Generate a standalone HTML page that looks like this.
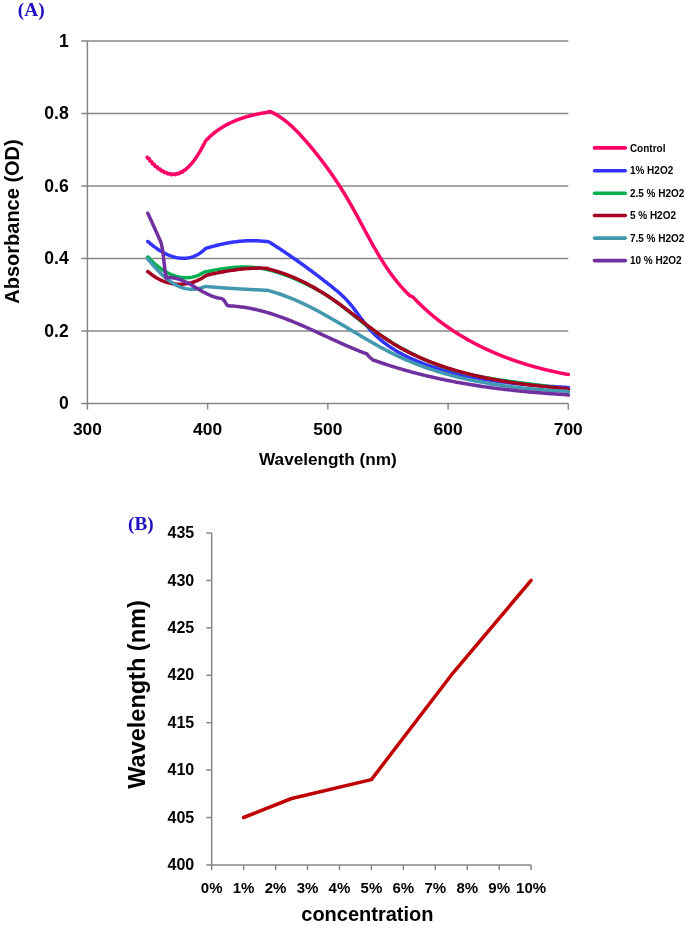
<!DOCTYPE html>
<html><head><meta charset="utf-8"><style>
html,body{margin:0;padding:0;background:#fff;}
svg{display:block;will-change:transform;}
text{font-family:"Liberation Sans",sans-serif;font-weight:bold;fill:#000;}
.serif{font-family:"Liberation Serif",serif;font-weight:bold;fill:#1F0FC0;}
</style></head><body>
<svg width="685" height="929" viewBox="0 0 685 929">
<rect width="685" height="929" fill="#fff"/>
<text class="serif" x="17.8" y="16.4" font-size="19.3">(A)</text>
<g stroke="#878787" stroke-width="1.5" fill="none"><line x1="81.2" y1="403.40" x2="568.30" y2="403.40"/><line x1="81.2" y1="330.92" x2="568.30" y2="330.92"/><line x1="81.2" y1="258.44" x2="568.30" y2="258.44"/><line x1="81.2" y1="185.96" x2="568.30" y2="185.96"/><line x1="81.2" y1="113.48" x2="568.30" y2="113.48"/><line x1="81.2" y1="41.00" x2="568.30" y2="41.00"/><line x1="87.4" y1="41.0" x2="87.4" y2="403.4"/><line x1="87.40" y1="403.4" x2="87.40" y2="409.6"/><line x1="207.62" y1="403.4" x2="207.62" y2="409.6"/><line x1="327.85" y1="403.4" x2="327.85" y2="409.6"/><line x1="448.08" y1="403.4" x2="448.08" y2="409.6"/><line x1="568.30" y1="403.4" x2="568.30" y2="409.6"/></g>
<g font-size="17.6"><text x="68.7" y="409.00" text-anchor="end">0</text><text x="68.7" y="336.52" text-anchor="end">0.2</text><text x="68.7" y="264.04" text-anchor="end">0.4</text><text x="68.7" y="191.56" text-anchor="end">0.6</text><text x="68.7" y="119.08" text-anchor="end">0.8</text><text x="68.7" y="46.60" text-anchor="end">1</text></g>
<g font-size="17.4"><text x="87.40" y="435.2" text-anchor="middle">300</text><text x="207.62" y="435.2" text-anchor="middle">400</text><text x="327.85" y="435.2" text-anchor="middle">500</text><text x="448.08" y="435.2" text-anchor="middle">600</text><text x="568.30" y="435.2" text-anchor="middle">700</text></g>
<text x="327.9" y="464.5" font-size="17.2" text-anchor="middle">Wavelength (nm)</text>
<text transform="translate(18.85,221.5) rotate(-90)" font-size="20" text-anchor="middle">Absorbance (OD)</text>
<g fill="none" stroke-width="3.5" stroke-linejoin="round" stroke-linecap="round"><path d="M147.20,157.20 L147.35,157.74 L147.62,158.13 L148.00,158.27 L148.57,158.47 L149.13,158.68 L149.48,159.02 L149.63,159.55 L149.65,160.19 L149.76,160.77 L150.11,161.15 L150.70,161.35 L151.31,161.50 L151.69,161.70 L151.92,162.04 L152.02,162.49 L152.07,162.99 L152.18,163.45 L152.41,163.79 L152.79,163.99 L153.27,164.09 L153.78,164.16 L154.19,164.32 L154.47,164.63 L154.60,165.07 L154.71,165.58 L154.85,166.04 L155.11,166.37 L155.52,166.54 L156.02,166.59 L156.53,166.63 L156.96,166.77 L157.23,167.06 L157.42,167.51 L157.56,168.01 L157.74,168.45 L158.05,168.75 L158.48,168.86 L158.99,168.86 L159.49,168.87 L159.90,168.98 L160.21,169.26 L160.42,169.68 L160.60,170.16 L160.83,170.59 L161.15,170.84 L161.58,170.91 L162.08,170.87 L162.56,170.82 L162.99,170.87 L163.32,171.10 L163.57,171.48 L163.79,171.93 L164.14,172.42 L164.62,172.63 L165.23,172.58 L165.85,172.42 L166.39,172.46 L166.80,172.79 L167.16,173.28 L167.54,173.74 L168.03,173.96 L168.57,173.86 L169.14,173.63 L169.65,173.50 L170.12,173.61 L170.55,173.97 L170.98,174.41 L171.43,174.66 L171.90,174.64 L172.41,174.40 L172.88,174.06 L173.35,173.88 L173.78,173.96 L174.26,174.22 L174.75,174.51 L175.26,174.66 L175.70,174.51 L176.10,174.16 L176.48,173.75 L176.88,173.45 L177.34,173.40 L177.84,173.56 L178.39,173.73 L178.89,173.77 L179.34,173.55 L179.66,173.11 L179.96,172.61 L180.28,172.26 L180.74,172.11 L181.30,172.17 L181.90,172.25 L182.40,172.15 L182.76,171.81 L183.01,171.28 L183.25,170.76 L183.63,170.43 L184.12,170.31 L184.67,170.20 L185.15,170.01 L185.54,169.69 L185.86,169.27 L186.20,168.88 L186.59,168.56 L187.01,168.24 L187.39,167.89 L187.78,167.55 L188.16,167.18 L188.54,166.81 L188.91,166.45 L189.19,166.16 L189.47,165.87 L189.75,165.58 L190.03,165.29 L190.30,164.99 L190.57,164.68 L190.84,164.38 L191.11,164.08 L191.38,163.77 L191.64,163.45 L191.91,163.14 L192.17,162.83 L192.43,162.50 L192.69,162.18 L192.95,161.86 L193.21,161.53 L193.46,161.20 L193.71,160.87 L193.96,160.54 L194.22,160.21 L194.46,159.87 L194.71,159.53 L194.95,159.19 L195.20,158.85 L195.44,158.51 L195.68,158.16 L195.92,157.82 L196.16,157.47 L196.39,157.13 L196.62,156.78 L196.85,156.43 L197.09,156.08 L197.31,155.73 L197.54,155.38 L197.76,155.03 L197.99,154.67 L198.21,154.32 L198.43,153.97 L198.64,153.62 L198.86,153.26 L199.07,152.91 L199.29,152.56 L199.50,152.20 L199.71,151.85 L199.91,151.50 L200.12,151.15 L200.32,150.80 L200.53,150.44 L200.72,150.10 L200.92,149.75 L201.12,149.40 L201.31,149.05 L201.57,148.59 L201.82,148.13 L202.07,147.67 L202.32,147.22 L202.56,146.77 L202.80,146.32 L203.04,145.87 L203.27,145.43 L203.50,144.99 L203.73,144.56 L203.95,144.13 L204.17,143.70 L204.38,143.28 L204.60,142.86 L204.81,142.44 L205.01,142.04 L205.21,141.64 L205.42,141.23 L205.68,140.89 L205.94,140.54 L206.20,140.20 L206.58,139.86 L206.96,139.51 L207.34,139.17 L207.71,138.79 L208.09,138.41 L208.46,138.04 L208.85,137.67 L209.23,137.30 L209.61,136.93 L210.00,136.57 L210.39,136.22 L210.78,135.86 L211.17,135.51 L211.57,135.16 L211.96,134.81 L212.36,134.47 L212.76,134.13 L213.16,133.79 L213.57,133.46 L213.98,133.13 L214.39,132.80 L214.80,132.48 L215.21,132.16 L215.62,131.84 L216.04,131.53 L216.46,131.22 L216.88,130.91 L217.31,130.60 L217.73,130.30 L218.15,130.00 L218.58,129.70 L219.01,129.41 L219.44,129.11 L219.88,128.83 L220.31,128.54 L220.75,128.26 L221.19,127.98 L221.63,127.70 L222.07,127.43 L222.51,127.16 L222.96,126.89 L223.40,126.62 L223.85,126.36 L224.30,126.10 L224.75,125.84 L225.21,125.58 L225.66,125.33 L226.12,125.08 L226.57,124.84 L227.03,124.59 L227.49,124.35 L227.95,124.11 L228.42,123.87 L228.88,123.64 L229.35,123.41 L229.81,123.18 L230.28,122.95 L230.75,122.73 L231.22,122.51 L231.69,122.29 L232.17,122.07 L232.64,121.86 L233.12,121.65 L233.60,121.44 L234.07,121.23 L234.55,121.03 L235.03,120.83 L235.52,120.63 L236.00,120.43 L236.48,120.24 L236.97,120.05 L237.45,119.85 L237.94,119.67 L238.43,119.48 L238.92,119.30 L239.41,119.12 L239.90,118.94 L240.39,118.77 L240.88,118.59 L241.38,118.42 L241.87,118.25 L242.37,118.09 L242.86,117.92 L243.36,117.76 L243.86,117.60 L244.36,117.44 L244.85,117.28 L245.36,117.13 L245.86,116.98 L246.36,116.83 L246.86,116.68 L247.36,116.54 L247.87,116.39 L248.37,116.25 L248.88,116.11 L249.38,115.97 L249.89,115.84 L250.39,115.71 L250.90,115.57 L251.41,115.44 L251.92,115.32 L252.43,115.19 L252.94,115.07 L253.45,114.95 L253.96,114.82 L254.47,114.71 L254.98,114.59 L255.49,114.47 L256.00,114.36 L256.51,114.25 L257.02,114.14 L257.54,114.04 L258.05,113.93 L258.56,113.83 L259.08,113.73 L259.59,113.63 L260.10,113.53 L260.62,113.43 L261.13,113.34 L261.65,113.24 L262.16,113.15 L262.68,113.06 L263.19,112.97 L263.71,112.88 L264.22,112.80 L264.74,112.71 L265.25,112.63 L265.77,112.55 L266.28,112.47 L266.79,112.35 L267.29,112.22 L267.80,112.10 L268.22,111.96 L268.64,111.82 L269.06,111.68 L269.48,111.54 L269.90,111.40 L270.36,111.61 L270.81,111.82 L271.27,112.03 L271.72,112.25 L272.17,112.47 L272.62,112.69 L273.06,112.92 L273.51,113.15 L273.95,113.38 L274.39,113.62 L274.82,113.85 L275.26,114.09 L275.69,114.34 L276.12,114.59 L276.55,114.83 L276.98,115.09 L277.41,115.34 L277.83,115.60 L278.25,115.86 L278.67,116.13 L279.09,116.39 L279.50,116.66 L279.91,116.93 L280.33,117.21 L280.74,117.49 L281.14,117.77 L281.55,118.04 L281.96,118.33 L282.36,118.62 L282.76,118.91 L283.16,119.20 L283.56,119.49 L283.96,119.79 L284.35,120.09 L284.74,120.39 L285.13,120.69 L285.52,121.00 L285.91,121.31 L286.30,121.61 L286.68,121.93 L287.07,122.24 L287.45,122.55 L287.83,122.87 L288.21,123.19 L288.59,123.51 L288.97,123.84 L289.34,124.16 L289.72,124.49 L290.09,124.82 L290.46,125.15 L290.83,125.48 L291.20,125.81 L291.57,126.15 L291.94,126.49 L292.30,126.83 L292.66,127.17 L293.03,127.51 L293.39,127.85 L293.75,128.20 L294.11,128.54 L294.47,128.89 L294.82,129.24 L295.18,129.59 L295.54,129.94 L295.89,130.29 L296.24,130.65 L296.60,131.01 L296.95,131.36 L297.30,131.72 L297.65,132.08 L298.00,132.44 L298.34,132.80 L298.69,133.17 L299.04,133.53 L299.38,133.89 L299.72,134.26 L300.07,134.63 L300.41,135.00 L300.75,135.37 L301.09,135.74 L301.43,136.11 L301.77,136.48 L302.11,136.85 L302.45,137.22 L302.79,137.60 L303.12,137.97 L303.46,138.35 L303.79,138.73 L304.13,139.10 L304.46,139.48 L304.80,139.86 L305.13,140.24 L305.46,140.62 L305.79,141.00 L306.13,141.38 L306.46,141.76 L306.79,142.14 L307.12,142.52 L307.45,142.90 L307.77,143.29 L308.10,143.67 L308.43,144.05 L308.76,144.44 L309.09,144.82 L309.41,145.21 L309.74,145.60 L310.06,145.98 L310.39,146.37 L310.71,146.76 L311.04,147.14 L311.36,147.53 L311.68,147.92 L312.01,148.31 L312.33,148.70 L312.65,149.09 L312.97,149.48 L313.29,149.87 L313.61,150.26 L313.93,150.65 L314.25,151.04 L314.57,151.44 L314.89,151.83 L315.20,152.22 L315.52,152.62 L315.84,153.01 L316.15,153.40 L316.47,153.80 L316.78,154.20 L317.10,154.59 L317.41,154.99 L317.73,155.38 L318.04,155.78 L318.35,156.18 L318.66,156.58 L318.98,156.98 L319.29,157.38 L319.60,157.77 L319.91,158.17 L320.22,158.57 L320.53,158.98 L320.84,159.38 L321.14,159.78 L321.45,160.18 L321.76,160.58 L322.06,160.98 L322.37,161.39 L322.68,161.79 L322.98,162.19 L323.28,162.60 L323.59,163.00 L323.89,163.41 L324.19,163.81 L324.50,164.22 L324.80,164.63 L325.10,165.03 L325.40,165.44 L325.70,165.85 L326.00,166.26 L326.30,166.66 L326.60,167.07 L326.90,167.48 L327.19,167.89 L327.49,168.30 L327.79,168.71 L328.08,169.12 L328.38,169.54 L328.67,169.95 L328.97,170.36 L329.26,170.77 L329.56,171.18 L329.85,171.60 L330.14,172.01 L330.43,172.42 L330.73,172.84 L331.02,173.25 L331.31,173.67 L331.60,174.08 L331.88,174.50 L332.17,174.92 L332.46,175.33 L332.75,175.75 L333.04,176.17 L333.32,176.58 L333.61,177.00 L333.89,177.42 L334.18,177.84 L334.46,178.26 L334.75,178.68 L335.03,179.10 L335.31,179.52 L335.60,179.94 L335.88,180.36 L336.16,180.78 L336.44,181.20 L336.72,181.62 L337.00,182.05 L337.28,182.47 L337.56,182.89 L337.83,183.32 L338.11,183.74 L338.39,184.16 L338.66,184.59 L338.94,185.01 L339.22,185.44 L339.49,185.87 L339.76,186.29 L340.04,186.72 L340.31,187.14 L340.58,187.57 L340.85,188.00 L341.12,188.43 L341.40,188.85 L341.67,189.28 L341.94,189.71 L342.20,190.14 L342.47,190.57 L342.74,191.00 L343.01,191.43 L343.28,191.86 L343.54,192.29 L343.81,192.72 L344.07,193.15 L344.34,193.59 L344.60,194.02 L344.86,194.45 L345.13,194.88 L345.39,195.32 L345.65,195.75 L345.91,196.18 L346.17,196.62 L346.43,197.05 L346.69,197.49 L346.95,197.92 L347.21,198.36 L347.47,198.79 L347.72,199.23 L347.98,199.66 L348.24,200.10 L348.49,200.54 L348.75,200.97 L349.00,201.41 L349.26,201.85 L349.51,202.29 L349.76,202.73 L350.01,203.17 L350.27,203.60 L350.52,204.04 L350.77,204.48 L351.02,204.92 L351.27,205.36 L351.52,205.80 L351.77,206.24 L352.01,206.69 L352.26,207.13 L352.51,207.57 L352.76,208.01 L353.00,208.45 L353.25,208.89 L353.49,209.34 L353.74,209.78 L353.99,210.22 L354.23,210.66 L354.47,211.11 L354.72,211.55 L354.96,211.99 L355.21,212.44 L355.45,212.88 L355.69,213.32 L355.93,213.77 L356.18,214.21 L356.42,214.65 L356.66,215.10 L356.90,215.54 L357.14,215.99 L357.38,216.43 L357.62,216.88 L357.86,217.32 L358.10,217.77 L358.34,218.21 L358.58,218.66 L358.82,219.10 L359.06,219.55 L359.30,219.99 L359.54,220.44 L359.78,220.88 L360.02,221.33 L360.26,221.77 L360.50,222.22 L360.73,222.66 L360.97,223.11 L361.21,223.55 L361.45,224.00 L361.69,224.44 L361.93,224.89 L362.16,225.34 L362.40,225.78 L362.64,226.23 L362.88,226.67 L363.12,227.12 L363.35,227.56 L363.59,228.01 L363.83,228.45 L364.07,228.90 L364.31,229.34 L364.54,229.79 L364.78,230.23 L365.02,230.68 L365.26,231.12 L365.50,231.57 L365.74,232.01 L365.98,232.46 L366.21,232.90 L366.45,233.34 L366.69,233.79 L366.93,234.23 L367.17,234.68 L367.41,235.12 L367.65,235.56 L367.89,236.01 L368.13,236.45 L368.37,236.89 L368.61,237.33 L368.85,237.78 L369.09,238.22 L369.33,238.66 L369.58,239.10 L369.82,239.55 L370.06,239.99 L370.30,240.43 L370.54,240.87 L370.79,241.31 L371.03,241.75 L371.27,242.19 L371.52,242.63 L371.76,243.07 L372.01,243.51 L372.25,243.95 L372.50,244.39 L372.74,244.83 L372.99,245.27 L373.24,245.71 L373.48,246.15 L373.73,246.58 L373.98,247.02 L374.22,247.46 L374.47,247.89 L374.72,248.33 L374.97,248.77 L375.22,249.20 L375.47,249.64 L375.72,250.07 L375.98,250.51 L376.23,250.94 L376.48,251.38 L376.73,251.81 L376.99,252.24 L377.24,252.68 L377.50,253.11 L377.75,253.54 L378.01,253.97 L378.26,254.40 L378.52,254.83 L378.78,255.27 L379.04,255.70 L379.29,256.13 L379.55,256.55 L379.81,256.98 L380.08,257.41 L380.34,257.84 L380.60,258.27 L380.86,258.69 L381.12,259.12 L381.39,259.55 L381.65,259.97 L381.92,260.40 L382.19,260.82 L382.45,261.24 L382.72,261.67 L382.99,262.09 L383.26,262.51 L383.53,262.94 L383.80,263.36 L384.07,263.78 L384.35,264.20 L384.62,264.62 L384.89,265.04 L385.17,265.46 L385.45,265.87 L385.72,266.29 L386.00,266.71 L386.28,267.12 L386.56,267.54 L386.84,267.96 L387.12,268.37 L387.40,268.78 L387.68,269.20 L387.97,269.61 L388.25,270.02 L388.54,270.43 L388.83,270.84 L389.12,271.25 L389.40,271.66 L389.69,272.07 L389.99,272.48 L390.28,272.89 L390.57,273.29 L390.86,273.70 L391.16,274.11 L391.46,274.51 L391.75,274.91 L392.05,275.32 L392.35,275.72 L392.65,276.12 L392.95,276.52 L393.26,276.92 L393.56,277.32 L393.86,277.72 L394.17,278.12 L394.48,278.52 L394.78,278.92 L395.10,279.31 L395.41,279.71 L395.72,280.10 L396.03,280.49 L396.35,280.89 L396.66,281.28 L396.98,281.67 L397.30,282.06 L397.61,282.45 L397.94,282.84 L398.26,283.23 L398.58,283.61 L398.90,284.00 L399.23,284.39 L399.56,284.77 L399.89,285.15 L400.21,285.54 L400.54,285.92 L400.88,286.30 L401.21,286.68 L401.54,287.06 L401.88,287.44 L402.22,287.81 L402.56,288.19 L402.90,288.57 L403.24,288.94 L403.58,289.32 L403.93,289.69 L404.28,290.06 L404.62,290.43 L404.97,290.80 L405.32,291.17 L405.67,291.54 L406.03,291.91 L406.38,292.27 L406.74,292.64 L407.10,293.00 L407.46,293.37 L407.82,293.73 L408.18,294.09 L408.55,294.45 L408.91,294.81 L409.28,295.17 L409.65,295.52 L410.02,295.88 L410.41,295.99 L410.81,296.09 L411.20,296.20 L411.60,296.30 L412.04,296.52 L412.49,296.75 L412.93,296.97 L413.29,297.35 L413.64,297.72 L413.99,298.10 L414.35,298.47 L414.70,298.85 L415.06,299.22 L415.41,299.59 L415.77,299.96 L416.13,300.33 L416.49,300.69 L416.85,301.06 L417.21,301.43 L417.57,301.79 L417.93,302.16 L418.29,302.52 L418.66,302.88 L419.02,303.24 L419.39,303.60 L419.75,303.96 L420.12,304.32 L420.48,304.67 L420.85,305.03 L421.22,305.38 L421.59,305.74 L421.96,306.09 L422.33,306.44 L422.70,306.79 L423.08,307.14 L423.45,307.49 L423.82,307.84 L424.20,308.19 L424.58,308.53 L424.95,308.88 L425.33,309.22 L425.71,309.56 L426.08,309.91 L426.46,310.25 L426.84,310.59 L427.22,310.93 L427.61,311.26 L427.99,311.60 L428.37,311.94 L428.75,312.27 L429.14,312.61 L429.52,312.94 L429.91,313.27 L430.29,313.60 L430.68,313.94 L431.07,314.26 L431.46,314.59 L431.85,314.92 L432.24,315.25 L432.63,315.57 L433.02,315.90 L433.41,316.22 L433.80,316.54 L434.19,316.87 L434.59,317.19 L434.98,317.50 L435.38,317.82 L435.77,318.14 L436.17,318.46 L436.57,318.78 L436.97,319.09 L437.36,319.40 L437.76,319.72 L438.16,320.03 L438.56,320.34 L438.96,320.65 L439.37,320.96 L439.77,321.27 L440.17,321.58 L440.58,321.88 L440.98,322.19 L441.39,322.49 L441.79,322.80 L442.20,323.10 L442.60,323.40 L443.01,323.70 L443.42,324.00 L443.83,324.30 L444.24,324.60 L444.65,324.90 L445.06,325.20 L445.47,325.49 L445.88,325.78 L446.30,326.08 L446.71,326.37 L447.12,326.66 L447.54,326.95 L447.95,327.24 L448.37,327.53 L448.78,327.82 L449.20,328.11 L449.62,328.39 L450.04,328.68 L450.45,328.96 L450.87,329.25 L451.29,329.53 L451.71,329.81 L452.13,330.09 L452.56,330.37 L452.98,330.65 L453.40,330.93 L453.82,331.21 L454.25,331.48 L454.67,331.76 L455.10,332.03 L455.52,332.31 L455.95,332.58 L456.38,332.85 L456.80,333.12 L457.23,333.39 L457.66,333.66 L458.09,333.93 L458.52,334.20 L458.95,334.46 L459.38,334.73 L459.81,334.99 L460.24,335.26 L460.67,335.52 L461.10,335.78 L461.54,336.04 L461.97,336.30 L462.41,336.56 L462.84,336.82 L463.28,337.08 L463.71,337.34 L464.15,337.59 L464.59,337.85 L465.02,338.10 L465.46,338.36 L465.90,338.61 L466.34,338.86 L466.78,339.11 L467.22,339.36 L467.66,339.61 L468.10,339.86 L468.54,340.10 L468.98,340.35 L469.42,340.60 L469.87,340.84 L470.31,341.08 L470.75,341.33 L471.20,341.57 L471.64,341.81 L472.09,342.05 L472.54,342.29 L472.98,342.53 L473.43,342.77 L473.88,343.00 L474.32,343.24 L474.77,343.48 L475.22,343.71 L475.67,343.94 L476.12,344.18 L476.57,344.41 L477.02,344.64 L477.47,344.87 L477.92,345.10 L478.37,345.33 L478.83,345.56 L479.28,345.78 L479.73,346.01 L480.19,346.23 L480.64,346.46 L481.10,346.68 L481.55,346.90 L482.01,347.13 L482.46,347.35 L482.92,347.57 L483.37,347.79 L483.83,348.00 L484.29,348.22 L484.75,348.44 L485.21,348.66 L485.66,348.87 L486.12,349.09 L486.58,349.30 L487.04,349.51 L487.50,349.72 L487.96,349.93 L488.43,350.15 L488.89,350.35 L489.35,350.56 L489.81,350.77 L490.27,350.98 L490.74,351.18 L491.20,351.39 L491.67,351.60 L492.13,351.80 L492.59,352.00 L493.06,352.20 L493.53,352.41 L493.99,352.61 L494.46,352.81 L494.92,353.01 L495.39,353.20 L495.86,353.40 L496.33,353.60 L496.79,353.79 L497.26,353.99 L497.73,354.18 L498.20,354.38 L498.67,354.57 L499.14,354.76 L499.61,354.95 L500.08,355.14 L500.55,355.33 L501.02,355.52 L501.50,355.71 L501.97,355.90 L502.44,356.08 L502.91,356.27 L503.39,356.45 L503.86,356.64 L504.33,356.82 L504.81,357.00 L505.28,357.19 L505.76,357.37 L506.23,357.55 L506.71,357.73 L507.18,357.90 L507.66,358.08 L508.13,358.26 L508.61,358.44 L509.09,358.61 L509.56,358.79 L510.04,358.96 L510.52,359.13 L511.00,359.31 L511.48,359.48 L511.95,359.65 L512.43,359.82 L512.91,359.99 L513.39,360.16 L513.87,360.33 L514.35,360.49 L514.83,360.66 L515.31,360.83 L515.79,360.99 L516.28,361.15 L516.76,361.32 L517.24,361.48 L517.72,361.64 L518.20,361.80 L518.68,361.96 L519.17,362.12 L519.65,362.28 L520.13,362.44 L520.62,362.60 L521.10,362.76 L521.59,362.91 L522.07,363.07 L522.55,363.22 L523.04,363.38 L523.52,363.53 L524.01,363.68 L524.49,363.83 L524.98,363.98 L525.47,364.14 L525.95,364.28 L526.44,364.43 L526.92,364.58 L527.41,364.73 L527.90,364.87 L528.39,365.02 L528.87,365.17 L529.36,365.31 L529.85,365.45 L530.34,365.60 L530.83,365.74 L531.31,365.88 L531.80,366.02 L532.29,366.16 L532.78,366.30 L533.27,366.44 L533.76,366.58 L534.25,366.72 L534.74,366.85 L535.23,366.99 L535.72,367.12 L536.21,367.26 L536.70,367.39 L537.19,367.53 L537.68,367.66 L538.17,367.79 L538.67,367.92 L539.16,368.05 L539.65,368.18 L540.14,368.31 L540.63,368.44 L541.12,368.56 L541.62,368.69 L542.11,368.82 L542.60,368.94 L543.09,369.07 L543.59,369.19 L544.08,369.32 L544.57,369.44 L545.07,369.56 L545.56,369.68 L546.05,369.80 L546.55,369.92 L547.04,370.04 L547.54,370.16 L548.03,370.28 L548.52,370.39 L549.02,370.51 L549.51,370.63 L550.01,370.74 L550.50,370.86 L551.00,370.97 L551.49,371.08 L551.99,371.20 L552.48,371.31 L552.98,371.42 L553.47,371.53 L553.97,371.64 L554.47,371.75 L554.96,371.86 L555.46,371.97 L555.95,372.07 L556.45,372.18 L556.95,372.29 L557.44,372.39 L557.94,372.50 L558.43,372.60 L558.93,372.70 L559.43,372.81 L559.92,372.91 L560.42,373.01 L560.92,373.11 L561.41,373.21 L561.91,373.31 L562.41,373.41 L562.91,373.51 L563.40,373.60 L563.90,373.70 L564.40,373.80 L564.89,373.89 L565.39,373.99 L565.89,374.08 L566.39,374.18 L566.88,374.27 L567.39,374.31 L567.89,374.36 L568.40,374.40" stroke="#FF0066"/><path d="M147.70,241.50 L148.93,242.30 L150.08,243.32 L151.26,244.32 L152.47,245.31 L153.70,246.28 L154.95,247.22 L156.22,248.15 L157.51,249.05 L158.83,249.92 L160.16,250.76 L161.51,251.57 L162.87,252.34 L164.25,253.08 L165.64,253.78 L167.05,254.43 L168.46,255.04 L169.89,255.61 L171.32,256.13 L172.76,256.59 L174.21,257.01 L175.67,257.36 L177.13,257.66 L178.59,257.90 L180.05,258.08 L181.51,258.20 L182.98,258.24 L184.44,258.23 L185.89,258.14 L187.35,257.98 L188.80,257.76 L190.24,257.45 L191.67,257.08 L193.09,256.62 L194.50,256.08 L195.90,255.47 L197.29,254.77 L198.66,253.99 L200.02,253.12 L201.36,252.16 L202.68,251.11 L203.99,249.97 L205.27,248.74 L206.50,248.10 L207.98,247.70 L209.46,247.28 L210.95,246.87 L212.43,246.47 L213.93,246.07 L215.42,245.69 L216.92,245.32 L218.41,244.96 L219.92,244.61 L221.42,244.27 L222.93,243.95 L224.44,243.64 L225.95,243.34 L227.46,243.06 L228.98,242.79 L230.49,242.53 L232.01,242.29 L233.53,242.07 L235.06,241.86 L236.58,241.66 L238.11,241.48 L239.64,241.32 L241.17,241.18 L242.70,241.05 L244.23,240.95 L245.76,240.86 L247.30,240.79 L248.83,240.73 L250.37,240.70 L251.91,240.69 L253.45,240.70 L254.98,240.73 L256.52,240.77 L258.06,240.85 L259.60,240.94 L261.14,241.05 L262.69,241.19 L264.23,241.35 L265.77,241.54 L267.30,241.60 L268.94,241.86 L270.20,242.66 L271.46,243.46 L272.72,244.26 L273.98,245.07 L275.23,245.88 L276.48,246.69 L277.74,247.51 L278.99,248.33 L280.24,249.16 L281.49,249.98 L282.74,250.81 L283.99,251.65 L285.23,252.49 L286.48,253.33 L287.72,254.17 L288.97,255.02 L290.21,255.87 L291.45,256.72 L292.68,257.58 L293.92,258.44 L295.16,259.30 L296.39,260.17 L297.62,261.03 L298.86,261.91 L300.09,262.78 L301.31,263.66 L302.54,264.54 L303.77,265.42 L304.99,266.31 L306.21,267.19 L307.43,268.08 L308.65,268.98 L309.87,269.87 L311.08,270.77 L312.30,271.67 L313.51,272.58 L314.72,273.49 L315.93,274.39 L317.13,275.31 L318.34,276.22 L319.54,277.14 L320.74,278.06 L321.94,278.98 L323.13,279.90 L324.33,280.83 L325.52,281.75 L326.71,282.68 L327.90,283.62 L329.09,284.55 L330.27,285.49 L331.45,286.43 L332.63,287.37 L333.80,288.32 L334.97,289.27 L336.13,290.23 L337.28,291.20 L338.43,292.18 L339.56,293.17 L340.68,294.17 L341.79,295.19 L342.89,296.22 L343.97,297.26 L345.03,298.32 L346.08,299.40 L347.11,300.50 L348.12,301.62 L349.12,302.75 L350.09,303.91 L351.06,305.07 L352.01,306.25 L352.95,307.45 L353.88,308.65 L354.80,309.86 L355.71,311.08 L356.62,312.30 L357.53,313.53 L358.43,314.76 L359.33,315.99 L360.23,317.22 L361.13,318.44 L362.03,319.66 L362.94,320.88 L363.86,322.09 L364.78,323.29 L365.71,324.48 L366.65,325.66 L367.60,326.83 L368.57,327.98 L369.55,329.11 L370.54,330.23 L371.56,331.33 L372.58,332.41 L373.62,333.47 L374.68,334.52 L375.75,335.55 L376.83,336.56 L377.93,337.56 L379.04,338.54 L380.16,339.50 L381.30,340.45 L382.45,341.38 L383.61,342.30 L384.79,343.20 L385.97,344.08 L387.17,344.96 L388.38,345.81 L389.60,346.65 L390.83,347.48 L392.07,348.29 L393.33,349.09 L394.59,349.88 L395.86,350.65 L397.14,351.41 L398.43,352.15 L399.73,352.89 L401.04,353.60 L402.36,354.31 L403.68,355.01 L405.02,355.69 L406.36,356.36 L407.71,357.02 L409.06,357.66 L410.42,358.30 L411.79,358.92 L413.17,359.53 L414.55,360.13 L415.94,360.73 L417.33,361.31 L418.73,361.88 L420.13,362.44 L421.54,362.99 L422.95,363.53 L424.36,364.06 L425.78,364.58 L427.21,365.09 L428.64,365.60 L430.07,366.09 L431.50,366.58 L432.94,367.06 L434.37,367.53 L435.81,367.99 L437.26,368.44 L438.70,368.89 L440.15,369.33 L441.60,369.76 L443.05,370.18 L444.50,370.60 L445.95,371.01 L447.41,371.41 L448.87,371.80 L450.33,372.19 L451.79,372.57 L453.25,372.94 L454.72,373.31 L456.19,373.67 L457.65,374.02 L459.12,374.37 L460.60,374.70 L462.07,375.04 L463.54,375.36 L465.02,375.68 L466.50,376.00 L467.98,376.31 L469.46,376.61 L470.94,376.91 L472.42,377.20 L473.90,377.48 L475.39,377.76 L476.88,378.03 L478.36,378.30 L479.85,378.56 L481.34,378.82 L482.83,379.07 L484.32,379.32 L485.82,379.56 L487.31,379.80 L488.80,380.03 L490.30,380.26 L491.80,380.48 L493.29,380.70 L494.79,380.91 L496.29,381.12 L497.79,381.32 L499.29,381.52 L500.79,381.72 L502.29,381.91 L503.79,382.10 L505.29,382.28 L506.79,382.46 L508.30,382.64 L509.80,382.81 L511.30,382.98 L512.81,383.14 L514.31,383.31 L515.81,383.46 L517.32,383.62 L518.82,383.77 L520.33,383.92 L521.83,384.07 L523.34,384.21 L524.84,384.35 L526.35,384.49 L527.85,384.62 L529.36,384.75 L530.86,384.88 L532.37,385.01 L533.87,385.13 L535.38,385.26 L536.88,385.38 L538.38,385.49 L539.89,385.61 L541.39,385.73 L542.89,385.84 L544.40,385.95 L545.90,386.06 L547.40,386.17 L548.90,386.27 L550.40,386.38 L551.90,386.48 L553.40,386.58 L554.90,386.68 L556.40,386.78 L557.89,386.88 L559.39,386.98 L560.89,387.08 L562.38,387.17 L563.87,387.27 L565.37,387.37 L566.86,387.46 L568.40,387.60" stroke="#3333FF"/><path d="M147.70,257.00 L148.94,257.91 L149.97,259.06 L151.02,260.19 L152.11,261.31 L153.23,262.40 L154.38,263.48 L155.56,264.53 L156.76,265.55 L157.99,266.55 L159.25,267.52 L160.52,268.46 L161.82,269.36 L163.14,270.23 L164.48,271.07 L165.84,271.86 L167.22,272.61 L168.62,273.32 L170.03,273.98 L171.45,274.60 L172.89,275.17 L174.34,275.68 L175.80,276.15 L177.27,276.55 L178.75,276.90 L180.23,277.19 L181.72,277.42 L183.22,277.58 L184.72,277.68 L186.23,277.72 L187.74,277.68 L189.24,277.57 L190.75,277.39 L192.26,277.13 L193.76,276.79 L195.26,276.38 L196.75,275.88 L198.24,275.30 L199.72,274.64 L201.20,273.88 L202.66,273.04 L204.11,272.11 L205.50,271.60 L206.94,271.67 L208.43,271.35 L209.93,271.04 L211.43,270.74 L212.93,270.44 L214.43,270.15 L215.94,269.88 L217.44,269.61 L218.95,269.35 L220.46,269.10 L221.97,268.87 L223.48,268.64 L224.99,268.43 L226.51,268.23 L228.02,268.05 L229.53,267.88 L231.05,267.72 L232.56,267.58 L234.07,267.45 L235.58,267.34 L237.09,267.25 L238.60,267.17 L240.11,267.11 L241.62,267.07 L243.12,267.04 L244.63,267.04 L246.13,267.05 L247.63,267.09 L249.12,267.14 L250.62,267.22 L252.11,267.32 L253.59,267.44 L255.08,267.58 L256.56,267.74 L258.04,267.93 L259.51,268.14 L260.98,268.37 L262.45,268.62 L263.91,268.89 L265.37,269.18 L266.83,269.49 L268.28,269.82 L269.74,270.17 L271.18,270.53 L272.63,270.91 L274.07,271.31 L275.50,271.73 L276.94,272.16 L278.37,272.61 L279.80,273.07 L281.22,273.54 L282.64,274.03 L284.06,274.54 L285.48,275.05 L286.89,275.58 L288.30,276.12 L289.71,276.68 L291.11,277.24 L292.51,277.81 L293.91,278.40 L295.30,278.99 L296.69,279.59 L298.08,280.20 L299.47,280.82 L300.85,281.45 L302.23,282.09 L303.60,282.74 L304.97,283.39 L306.34,284.05 L307.70,284.73 L309.06,285.41 L310.41,286.10 L311.76,286.80 L313.10,287.51 L314.44,288.22 L315.77,288.95 L317.10,289.69 L318.42,290.43 L319.74,291.18 L321.05,291.95 L322.35,292.72 L323.65,293.50 L324.94,294.29 L326.23,295.10 L327.50,295.91 L328.77,296.73 L330.04,297.56 L331.29,298.40 L332.54,299.24 L333.78,300.10 L335.01,300.97 L336.23,301.85 L337.45,302.74 L338.66,303.63 L339.86,304.53 L341.06,305.44 L342.26,306.35 L343.44,307.27 L344.63,308.20 L345.81,309.12 L346.99,310.06 L348.17,310.99 L349.34,311.93 L350.52,312.86 L351.69,313.80 L352.87,314.74 L354.04,315.68 L355.22,316.61 L356.40,317.55 L357.58,318.48 L358.76,319.41 L359.94,320.34 L361.13,321.26 L362.33,322.17 L363.52,323.08 L364.73,323.99 L365.93,324.89 L367.14,325.79 L368.35,326.68 L369.57,327.57 L370.79,328.45 L372.01,329.33 L373.24,330.20 L374.47,331.07 L375.70,331.93 L376.94,332.79 L378.19,333.64 L379.43,334.49 L380.68,335.33 L381.94,336.16 L383.19,336.99 L384.46,337.81 L385.72,338.63 L386.99,339.44 L388.26,340.24 L389.54,341.04 L390.82,341.83 L392.10,342.62 L393.39,343.40 L394.68,344.17 L395.98,344.94 L397.28,345.70 L398.58,346.45 L399.88,347.20 L401.19,347.94 L402.51,348.67 L403.82,349.39 L405.14,350.11 L406.47,350.82 L407.80,351.53 L409.13,352.22 L410.46,352.91 L411.80,353.60 L413.15,354.27 L414.49,354.94 L415.84,355.60 L417.20,356.25 L418.55,356.89 L419.91,357.53 L421.28,358.16 L422.65,358.78 L424.02,359.39 L425.39,359.99 L426.77,360.59 L428.16,361.18 L429.54,361.76 L430.93,362.33 L432.32,362.89 L433.72,363.44 L435.12,363.99 L436.53,364.52 L437.93,365.05 L439.34,365.57 L440.76,366.08 L442.18,366.58 L443.60,367.07 L445.03,367.55 L446.45,368.02 L447.89,368.48 L449.32,368.94 L450.76,369.38 L452.21,369.82 L453.65,370.24 L455.10,370.66 L456.55,371.07 L458.01,371.47 L459.47,371.86 L460.93,372.24 L462.39,372.62 L463.86,372.98 L465.33,373.34 L466.80,373.70 L468.28,374.04 L469.75,374.38 L471.23,374.71 L472.72,375.03 L474.20,375.35 L475.68,375.66 L477.17,375.97 L478.66,376.27 L480.15,376.56 L481.65,376.85 L483.14,377.13 L484.64,377.40 L486.13,377.67 L487.63,377.94 L489.13,378.20 L490.63,378.46 L492.14,378.71 L493.64,378.96 L495.14,379.20 L496.65,379.44 L498.15,379.67 L499.66,379.90 L501.17,380.13 L502.67,380.36 L504.18,380.58 L505.69,380.80 L507.20,381.01 L508.71,381.23 L510.22,381.44 L511.72,381.64 L513.23,381.85 L514.74,382.05 L516.25,382.26 L517.76,382.46 L519.26,382.66 L520.77,382.85 L522.27,383.05 L523.78,383.25 L525.28,383.44 L526.79,383.64 L528.29,383.83 L529.79,384.03 L531.29,384.22 L532.79,384.42 L534.29,384.61 L535.78,384.80 L537.28,385.00 L538.77,385.20 L540.26,385.39 L541.75,385.59 L543.24,385.79 L544.72,385.99 L546.21,386.20 L547.69,386.40 L549.17,386.61 L550.65,386.82 L552.12,387.03 L553.59,387.24 L555.06,387.46 L556.53,387.68 L557.99,387.90 L559.46,388.13 L560.91,388.36 L562.37,388.59 L563.82,388.83 L565.27,389.07 L566.72,389.31 L568.40,389.35" stroke="#00B050"/><path d="M147.70,271.60 L148.97,272.40 L150.21,273.46 L151.47,274.47 L152.77,275.43 L154.08,276.34 L155.43,277.21 L156.79,278.02 L158.18,278.79 L159.58,279.51 L161.01,280.18 L162.45,280.79 L163.91,281.36 L165.38,281.88 L166.86,282.34 L168.36,282.76 L169.87,283.12 L171.38,283.43 L172.91,283.69 L174.44,283.90 L175.97,284.05 L177.51,284.16 L179.06,284.21 L180.60,284.21 L182.14,284.15 L183.68,284.04 L185.22,283.88 L186.75,283.66 L188.27,283.39 L189.79,283.06 L191.30,282.68 L192.80,282.25 L194.29,281.76 L195.77,281.21 L197.23,280.61 L198.67,279.95 L200.10,279.24 L201.51,278.47 L202.90,277.64 L204.27,276.75 L205.62,275.81 L207.00,275.20 L208.51,274.81 L210.04,274.47 L211.56,274.13 L213.08,273.80 L214.61,273.48 L216.14,273.16 L217.67,272.84 L219.21,272.54 L220.74,272.24 L222.28,271.95 L223.81,271.66 L225.35,271.39 L226.89,271.12 L228.44,270.87 L229.98,270.62 L231.52,270.38 L233.07,270.15 L234.62,269.93 L236.16,269.72 L237.71,269.53 L239.26,269.34 L240.82,269.17 L242.37,269.00 L243.92,268.85 L245.47,268.72 L247.03,268.59 L248.59,268.48 L250.14,268.38 L251.70,268.30 L253.26,268.23 L254.82,268.17 L256.37,268.13 L257.93,268.11 L259.49,268.10 L261.05,268.10 L262.62,268.13 L264.18,268.17 L265.74,268.22 L267.30,268.20 L268.41,268.99 L269.91,269.37 L271.41,269.77 L272.90,270.17 L274.39,270.60 L275.86,271.03 L277.33,271.48 L278.79,271.94 L280.25,272.41 L281.70,272.89 L283.14,273.39 L284.58,273.90 L286.01,274.42 L287.43,274.96 L288.85,275.50 L290.26,276.06 L291.66,276.62 L293.06,277.20 L294.45,277.79 L295.84,278.39 L297.21,279.01 L298.59,279.63 L299.96,280.26 L301.32,280.91 L302.67,281.56 L304.03,282.22 L305.37,282.90 L306.71,283.58 L308.04,284.27 L309.37,284.98 L310.70,285.69 L312.02,286.41 L313.33,287.14 L314.64,287.88 L315.94,288.63 L317.24,289.39 L318.53,290.16 L319.82,290.93 L321.10,291.71 L322.38,292.51 L323.66,293.30 L324.93,294.11 L326.19,294.93 L327.45,295.75 L328.71,296.58 L329.96,297.42 L331.21,298.26 L332.46,299.11 L333.70,299.97 L334.93,300.84 L336.17,301.71 L337.39,302.59 L338.62,303.47 L339.84,304.36 L341.06,305.25 L342.28,306.15 L343.49,307.06 L344.70,307.96 L345.91,308.87 L347.12,309.79 L348.33,310.70 L349.53,311.62 L350.73,312.55 L351.93,313.47 L353.13,314.40 L354.33,315.33 L355.53,316.25 L356.73,317.18 L357.92,318.11 L359.12,319.04 L360.32,319.97 L361.52,320.90 L362.72,321.82 L363.91,322.75 L365.11,323.67 L366.31,324.60 L367.52,325.52 L368.72,326.43 L369.92,327.35 L371.13,328.26 L372.34,329.16 L373.55,330.06 L374.76,330.96 L375.98,331.85 L377.20,332.74 L378.42,333.62 L379.65,334.50 L380.87,335.37 L382.11,336.23 L383.34,337.09 L384.58,337.94 L385.82,338.78 L387.07,339.62 L388.32,340.44 L389.58,341.26 L390.84,342.07 L392.11,342.87 L393.38,343.66 L394.66,344.44 L395.94,345.21 L397.23,345.97 L398.52,346.72 L399.82,347.46 L401.12,348.20 L402.43,348.92 L403.74,349.64 L405.06,350.34 L406.38,351.04 L407.71,351.73 L409.04,352.41 L410.38,353.08 L411.72,353.74 L413.06,354.39 L414.41,355.04 L415.76,355.67 L417.12,356.30 L418.48,356.92 L419.85,357.53 L421.22,358.14 L422.59,358.73 L423.97,359.32 L425.35,359.90 L426.74,360.47 L428.13,361.03 L429.52,361.59 L430.91,362.14 L432.31,362.68 L433.72,363.21 L435.13,363.74 L436.54,364.25 L437.95,364.76 L439.37,365.27 L440.79,365.76 L442.21,366.25 L443.64,366.73 L445.06,367.21 L446.50,367.68 L447.93,368.14 L449.37,368.59 L450.81,369.04 L452.25,369.48 L453.70,369.91 L455.15,370.34 L456.60,370.76 L458.06,371.18 L459.51,371.59 L460.97,371.99 L462.43,372.38 L463.89,372.77 L465.36,373.16 L466.83,373.53 L468.30,373.91 L469.77,374.27 L471.24,374.63 L472.72,374.99 L474.20,375.34 L475.67,375.68 L477.16,376.02 L478.64,376.35 L480.12,376.67 L481.61,377.00 L483.10,377.31 L484.58,377.62 L486.07,377.93 L487.56,378.23 L489.06,378.53 L490.55,378.82 L492.05,379.10 L493.54,379.39 L495.04,379.66 L496.54,379.93 L498.03,380.20 L499.53,380.47 L501.03,380.72 L502.53,380.98 L504.04,381.23 L505.54,381.47 L507.04,381.72 L508.54,381.95 L510.05,382.19 L511.55,382.42 L513.06,382.64 L514.56,382.87 L516.06,383.08 L517.57,383.30 L519.07,383.51 L520.58,383.72 L522.08,383.92 L523.59,384.12 L525.09,384.32 L526.60,384.51 L528.10,384.70 L529.60,384.89 L531.10,385.08 L532.61,385.26 L534.11,385.44 L535.61,385.61 L537.11,385.79 L538.61,385.96 L540.11,386.13 L541.61,386.29 L543.10,386.45 L544.60,386.61 L546.10,386.77 L547.59,386.93 L549.08,387.08 L550.57,387.23 L552.07,387.38 L553.55,387.53 L555.04,387.67 L556.53,387.82 L558.01,387.96 L559.50,388.10 L560.98,388.24 L562.46,388.37 L563.94,388.51 L565.41,388.64 L566.89,388.78 L568.40,389.50" stroke="#A50021"/><path d="M147.40,258.80 L148.57,259.87 L149.50,261.00 L150.46,262.13 L151.43,263.28 L152.42,264.43 L153.42,265.59 L154.45,266.75 L155.49,267.91 L156.56,269.06 L157.64,270.21 L158.73,271.35 L159.85,272.48 L160.98,273.59 L162.13,274.69 L163.30,275.76 L164.49,276.82 L165.69,277.85 L166.91,278.86 L168.14,279.83 L169.40,280.77 L170.66,281.68 L171.95,282.55 L173.25,283.38 L174.57,284.17 L175.90,284.91 L177.25,285.60 L178.62,286.24 L180.00,286.83 L181.39,287.36 L182.80,287.84 L184.23,288.25 L185.67,288.60 L187.13,288.88 L188.60,289.09 L190.09,289.24 L191.59,289.30 L193.11,289.29 L194.64,289.20 L196.18,289.03 L197.74,288.78 L199.31,288.43 L200.90,288.00 L202.50,287.47 L204.11,286.85 L205.50,286.50 L207.05,286.56 L208.59,286.69 L210.13,286.82 L211.68,286.94 L213.22,287.06 L214.76,287.19 L216.31,287.30 L217.85,287.42 L219.39,287.54 L220.94,287.65 L222.48,287.77 L224.02,287.88 L225.57,287.99 L227.11,288.09 L228.66,288.20 L230.20,288.30 L231.75,288.40 L233.29,288.51 L234.83,288.60 L236.38,288.70 L237.92,288.80 L239.47,288.89 L241.02,288.98 L242.56,289.07 L244.11,289.16 L245.65,289.25 L247.20,289.33 L248.74,289.41 L250.29,289.49 L251.84,289.57 L253.38,289.65 L254.93,289.73 L256.47,289.80 L258.02,289.87 L259.57,289.94 L261.11,290.01 L262.66,290.08 L264.21,290.14 L265.75,290.20 L267.30,290.30 L268.75,290.67 L270.23,291.07 L271.69,291.49 L273.15,291.92 L274.61,292.36 L276.06,292.81 L277.50,293.28 L278.94,293.75 L280.38,294.24 L281.81,294.74 L283.23,295.24 L284.65,295.76 L286.07,296.29 L287.48,296.83 L288.88,297.38 L290.28,297.94 L291.68,298.51 L293.08,299.08 L294.47,299.67 L295.85,300.27 L297.23,300.87 L298.61,301.48 L299.98,302.10 L301.35,302.73 L302.72,303.37 L304.08,304.01 L305.44,304.66 L306.80,305.32 L308.15,305.98 L309.51,306.66 L310.85,307.33 L312.20,308.02 L313.54,308.71 L314.88,309.41 L316.21,310.11 L317.55,310.82 L318.88,311.53 L320.21,312.25 L321.54,312.97 L322.86,313.70 L324.18,314.43 L325.51,315.17 L326.82,315.91 L328.14,316.65 L329.46,317.40 L330.77,318.15 L332.08,318.91 L333.40,319.66 L334.70,320.42 L336.01,321.19 L337.32,321.95 L338.63,322.72 L339.93,323.49 L341.24,324.26 L342.54,325.03 L343.85,325.81 L345.15,326.58 L346.45,327.36 L347.75,328.13 L349.05,328.91 L350.36,329.69 L351.66,330.46 L352.96,331.24 L354.26,332.02 L355.56,332.79 L356.86,333.57 L358.17,334.34 L359.47,335.12 L360.77,335.89 L362.08,336.66 L363.38,337.43 L364.69,338.20 L365.99,338.96 L367.30,339.72 L368.61,340.48 L369.92,341.24 L371.23,341.99 L372.54,342.74 L373.86,343.49 L375.17,344.23 L376.49,344.97 L377.81,345.70 L379.13,346.43 L380.45,347.16 L381.78,347.88 L383.11,348.60 L384.43,349.31 L385.77,350.01 L387.10,350.71 L388.44,351.41 L389.78,352.10 L391.12,352.78 L392.46,353.45 L393.81,354.12 L395.16,354.79 L396.52,355.44 L397.87,356.09 L399.23,356.73 L400.60,357.36 L401.96,357.99 L403.33,358.61 L404.71,359.22 L406.08,359.82 L407.46,360.42 L408.84,361.00 L410.23,361.59 L411.62,362.16 L413.01,362.73 L414.41,363.29 L415.80,363.84 L417.20,364.38 L418.61,364.92 L420.01,365.45 L421.42,365.98 L422.84,366.49 L424.25,367.00 L425.67,367.51 L427.09,368.00 L428.51,368.50 L429.94,368.98 L431.36,369.46 L432.79,369.93 L434.23,370.39 L435.66,370.85 L437.10,371.30 L438.54,371.74 L439.98,372.18 L441.42,372.61 L442.87,373.04 L444.32,373.46 L445.77,373.87 L447.22,374.28 L448.68,374.68 L450.13,375.08 L451.59,375.47 L453.05,375.85 L454.52,376.23 L455.98,376.60 L457.45,376.97 L458.92,377.33 L460.39,377.68 L461.86,378.03 L463.33,378.37 L464.81,378.71 L466.29,379.04 L467.77,379.37 L469.25,379.69 L470.73,380.01 L472.21,380.32 L473.69,380.63 L475.18,380.93 L476.67,381.22 L478.16,381.51 L479.65,381.80 L481.14,382.08 L482.63,382.35 L484.13,382.62 L485.62,382.89 L487.12,383.15 L488.61,383.41 L490.11,383.66 L491.61,383.90 L493.11,384.15 L494.61,384.38 L496.11,384.62 L497.62,384.84 L499.12,385.07 L500.62,385.29 L502.13,385.50 L503.64,385.71 L505.14,385.92 L506.65,386.12 L508.16,386.32 L509.66,386.51 L511.17,386.70 L512.68,386.89 L514.19,387.07 L515.70,387.25 L517.21,387.42 L518.72,387.59 L520.23,387.76 L521.75,387.92 L523.26,388.08 L524.77,388.23 L526.28,388.38 L527.79,388.53 L529.31,388.67 L530.82,388.82 L532.33,388.95 L533.84,389.09 L535.35,389.22 L536.87,389.34 L538.38,389.47 L539.89,389.59 L541.40,389.71 L542.91,389.82 L544.42,389.93 L545.93,390.04 L547.44,390.15 L548.95,390.25 L550.46,390.35 L551.97,390.45 L553.48,390.54 L554.99,390.63 L556.49,390.72 L558.00,390.81 L559.50,390.89 L561.01,390.97 L562.51,391.05 L564.02,391.12 L565.52,391.20 L567.02,391.27 L568.40,392.10" stroke="#4198AF"/><path d="M147.80,213.20 L154.20,227.20 L160.50,241.20 L161.03,242.68 L161.40,244.20 L161.74,245.72 L162.05,247.25 L162.33,248.79 L162.58,250.33 L162.82,251.88 L163.03,253.43 L163.24,254.98 L163.42,256.53 L163.60,258.09 L163.77,259.65 L163.94,261.21 L164.11,262.77 L164.28,264.33 L164.45,265.89 L164.63,267.45 L164.82,269.01 L165.03,270.57 L165.25,272.12 L165.49,273.67 L165.76,275.21 L166.05,276.75 L166.30,278.30 L167.65,277.56 L169.19,277.55 L170.70,277.61 L172.20,277.74 L173.69,277.95 L175.16,278.23 L176.61,278.57 L178.06,278.97 L179.49,279.42 L180.91,279.93 L182.32,280.48 L183.72,281.08 L185.12,281.72 L186.50,282.39 L187.88,283.09 L189.26,283.82 L190.63,284.57 L191.99,285.34 L193.36,286.12 L194.72,286.92 L196.08,287.72 L197.44,288.52 L198.81,289.32 L200.17,290.12 L201.54,290.90 L202.91,291.67 L204.29,292.42 L205.67,293.15 L207.06,293.86 L208.46,294.53 L209.87,295.17 L211.28,295.77 L212.71,296.32 L214.15,296.83 L215.60,297.29 L217.06,297.69 L218.54,298.03 L220.03,298.31 L221.60,298.60 L223.80,300.00 L227.40,305.60 L228.77,305.85 L230.31,305.92 L231.85,306.01 L233.38,306.11 L234.90,306.24 L236.43,306.38 L237.94,306.53 L239.46,306.70 L240.97,306.89 L242.47,307.09 L243.98,307.31 L245.47,307.54 L246.97,307.79 L248.46,308.05 L249.95,308.32 L251.43,308.61 L252.91,308.91 L254.38,309.23 L255.86,309.55 L257.33,309.89 L258.79,310.25 L260.26,310.61 L261.71,310.99 L263.17,311.38 L264.62,311.78 L266.07,312.19 L267.52,312.61 L268.97,313.04 L270.41,313.48 L271.85,313.94 L273.28,314.40 L274.72,314.87 L276.15,315.35 L277.58,315.84 L279.01,316.34 L280.43,316.85 L281.85,317.36 L283.27,317.89 L284.69,318.42 L286.11,318.96 L287.52,319.50 L288.93,320.06 L290.34,320.62 L291.75,321.18 L293.16,321.75 L294.56,322.33 L295.96,322.91 L297.36,323.50 L298.76,324.10 L300.16,324.69 L301.56,325.30 L302.96,325.90 L304.35,326.52 L305.75,327.13 L307.14,327.75 L308.53,328.37 L309.92,329.00 L311.31,329.62 L312.70,330.25 L314.09,330.89 L315.48,331.52 L316.86,332.16 L318.25,332.79 L319.63,333.43 L321.02,334.07 L322.41,334.71 L323.79,335.35 L325.18,335.99 L326.56,336.63 L327.94,337.27 L329.33,337.91 L330.71,338.55 L332.10,339.18 L333.48,339.82 L334.87,340.45 L336.25,341.08 L337.64,341.71 L339.02,342.34 L340.41,342.96 L341.80,343.58 L343.19,344.20 L344.57,344.82 L345.96,345.43 L347.35,346.03 L348.74,346.63 L350.14,347.23 L351.53,347.82 L352.92,348.41 L354.32,348.99 L355.71,349.57 L357.11,350.14 L358.51,350.70 L359.91,351.26 L361.31,351.81 L362.72,352.35 L364.12,352.89 L365.53,353.42 L366.94,353.94 L368.00,355.40 L370.00,357.50 L373.20,360.10 L374.62,360.52 L376.06,361.02 L377.50,361.53 L378.94,362.02 L380.38,362.52 L381.82,363.01 L383.27,363.49 L384.72,363.97 L386.16,364.44 L387.61,364.91 L389.06,365.38 L390.51,365.84 L391.96,366.30 L393.41,366.75 L394.87,367.19 L396.32,367.64 L397.78,368.07 L399.23,368.51 L400.69,368.94 L402.15,369.36 L403.61,369.78 L405.07,370.20 L406.54,370.61 L408.00,371.02 L409.46,371.42 L410.93,371.82 L412.39,372.21 L413.86,372.60 L415.33,372.99 L416.80,373.37 L418.27,373.75 L419.74,374.12 L421.21,374.49 L422.69,374.86 L424.16,375.22 L425.63,375.58 L427.11,375.93 L428.59,376.28 L430.06,376.63 L431.54,376.97 L433.02,377.31 L434.50,377.64 L435.98,377.97 L437.46,378.30 L438.95,378.62 L440.43,378.94 L441.92,379.25 L443.40,379.57 L444.89,379.87 L446.37,380.18 L447.86,380.48 L449.35,380.77 L450.84,381.07 L452.33,381.36 L453.82,381.64 L455.31,381.92 L456.80,382.20 L458.29,382.48 L459.78,382.75 L461.28,383.02 L462.77,383.28 L464.27,383.55 L465.76,383.80 L467.26,384.06 L468.76,384.31 L470.25,384.56 L471.75,384.80 L473.25,385.05 L474.75,385.28 L476.25,385.52 L477.75,385.75 L479.25,385.98 L480.75,386.21 L482.25,386.43 L483.76,386.65 L485.26,386.87 L486.76,387.08 L488.27,387.29 L489.77,387.50 L491.28,387.70 L492.78,387.91 L494.29,388.11 L495.80,388.30 L497.30,388.50 L498.81,388.69 L500.32,388.87 L501.82,389.06 L503.33,389.24 L504.84,389.42 L506.35,389.60 L507.86,389.77 L509.37,389.94 L510.88,390.11 L512.39,390.28 L513.90,390.44 L515.41,390.60 L516.92,390.76 L518.44,390.92 L519.95,391.07 L521.46,391.22 L522.97,391.37 L524.49,391.51 L526.00,391.66 L527.51,391.80 L529.03,391.94 L530.54,392.07 L532.05,392.21 L533.57,392.34 L535.08,392.47 L536.60,392.60 L538.11,392.72 L539.63,392.85 L541.14,392.97 L542.66,393.09 L544.17,393.20 L545.69,393.32 L547.20,393.43 L548.72,393.54 L550.23,393.65 L551.75,393.76 L553.27,393.86 L554.78,393.97 L556.30,394.07 L557.81,394.17 L559.33,394.26 L560.84,394.36 L562.36,394.45 L563.88,394.54 L565.39,394.63 L566.91,394.72 L568.40,395.10" stroke="#7030A0"/></g>
<g font-size="10"><line x1="594.5" y1="147.9" x2="625.3" y2="147.9" stroke="#FF0066" stroke-width="3.6" stroke-linecap="round"/><text x="629.9" y="151.5">Control</text><line x1="594.5" y1="170.7" x2="625.3" y2="170.7" stroke="#3333FF" stroke-width="3.6" stroke-linecap="round"/><text x="629.9" y="174.3">1% H2O2</text><line x1="594.5" y1="193.2" x2="625.3" y2="193.2" stroke="#00B050" stroke-width="3.6" stroke-linecap="round"/><text x="629.9" y="196.8">2.5 % H2O2</text><line x1="594.5" y1="215.5" x2="625.3" y2="215.5" stroke="#A50021" stroke-width="3.6" stroke-linecap="round"/><text x="629.9" y="219.1">5 % H2O2</text><line x1="594.5" y1="238.1" x2="625.3" y2="238.1" stroke="#4198AF" stroke-width="3.6" stroke-linecap="round"/><text x="629.9" y="241.7">7.5 % H2O2</text><line x1="594.5" y1="260.6" x2="625.3" y2="260.6" stroke="#7030A0" stroke-width="3.6" stroke-linecap="round"/><text x="629.9" y="264.2">10 % H2O2</text></g>
<text class="serif" x="128.1" y="529.5" font-size="19.2">(B)</text>
<g stroke="#878787" stroke-width="1.5" fill="none"><line x1="211.7" y1="533.0" x2="211.7" y2="864.9"/><line x1="211.7" y1="864.9" x2="531.1" y2="864.9"/><line x1="206.3" y1="864.90" x2="211.7" y2="864.90"/><line x1="206.3" y1="817.49" x2="211.7" y2="817.49"/><line x1="206.3" y1="770.07" x2="211.7" y2="770.07"/><line x1="206.3" y1="722.66" x2="211.7" y2="722.66"/><line x1="206.3" y1="675.24" x2="211.7" y2="675.24"/><line x1="206.3" y1="627.83" x2="211.7" y2="627.83"/><line x1="206.3" y1="580.41" x2="211.7" y2="580.41"/><line x1="206.3" y1="533.00" x2="211.7" y2="533.00"/><line x1="211.70" y1="864.9" x2="211.70" y2="870.1"/><line x1="243.64" y1="864.9" x2="243.64" y2="870.1"/><line x1="275.58" y1="864.9" x2="275.58" y2="870.1"/><line x1="307.52" y1="864.9" x2="307.52" y2="870.1"/><line x1="339.46" y1="864.9" x2="339.46" y2="870.1"/><line x1="371.40" y1="864.9" x2="371.40" y2="870.1"/><line x1="403.34" y1="864.9" x2="403.34" y2="870.1"/><line x1="435.28" y1="864.9" x2="435.28" y2="870.1"/><line x1="467.22" y1="864.9" x2="467.22" y2="870.1"/><line x1="499.16" y1="864.9" x2="499.16" y2="870.1"/><line x1="531.10" y1="864.9" x2="531.10" y2="870.1"/></g>
<g font-size="16"><text x="194.2" y="870.10" text-anchor="end">400</text><text x="194.2" y="822.69" text-anchor="end">405</text><text x="194.2" y="775.27" text-anchor="end">410</text><text x="194.2" y="727.86" text-anchor="end">415</text><text x="194.2" y="680.44" text-anchor="end">420</text><text x="194.2" y="633.03" text-anchor="end">425</text><text x="194.2" y="585.61" text-anchor="end">430</text><text x="194.2" y="538.20" text-anchor="end">435</text><text x="211.70" y="893.3" text-anchor="middle" font-size="15">0%</text><text x="243.64" y="893.3" text-anchor="middle" font-size="15">1%</text><text x="275.58" y="893.3" text-anchor="middle" font-size="15">2%</text><text x="307.52" y="893.3" text-anchor="middle" font-size="15">3%</text><text x="339.46" y="893.3" text-anchor="middle" font-size="15">4%</text><text x="371.40" y="893.3" text-anchor="middle" font-size="15">5%</text><text x="403.34" y="893.3" text-anchor="middle" font-size="15">6%</text><text x="435.28" y="893.3" text-anchor="middle" font-size="15">7%</text><text x="467.22" y="893.3" text-anchor="middle" font-size="15">8%</text><text x="499.16" y="893.3" text-anchor="middle" font-size="15">9%</text><text x="531.10" y="893.3" text-anchor="middle" font-size="15">10%</text></g>
<polyline points="243.6,817.5 291.6,798.5 371.4,779.6 451.2,675.2 531.1,580.4" fill="none" stroke="#C00000" stroke-width="3.5" stroke-linejoin="round" stroke-linecap="round"/>
<text x="367.4" y="920.7" font-size="20" text-anchor="middle">concentration</text>
<text transform="translate(145.4,694.5) rotate(-90)" font-size="23.5" text-anchor="middle">Wavelength (nm)</text>
</svg>
</body></html>
